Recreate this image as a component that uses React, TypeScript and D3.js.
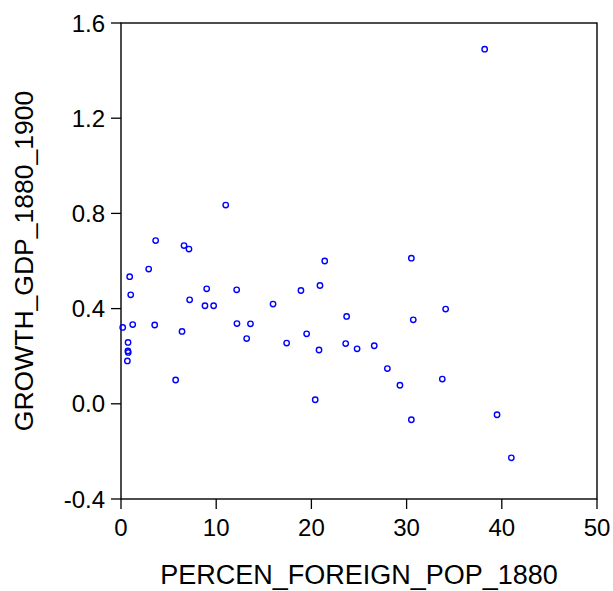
import React from "react";
import * as d3 from "d3";

const percenForeignPop1880: number[] = [
  0.18, 0.74, 0.72, 0.76, 0.67, 0.91, 1.02, 1.23, 2.91, 3.64, 3.54, 5.74, 6.41, 6.62, 7.14,
  7.21, 8.82, 9.0, 9.73, 11.0, 12.15, 12.18, 13.2, 13.6, 15.97, 17.4, 18.9, 19.5, 20.4, 20.9,
  20.8, 21.4, 23.6, 23.7, 24.8, 26.6, 27.98, 29.3, 30.5, 30.5, 30.7, 33.75, 34.1, 38.2, 39.5, 41.0,
];
const growthGdp18801900: number[] = [
  0.321, 0.258, 0.222, 0.216, 0.18, 0.534, 0.458, 0.333, 0.566, 0.686, 0.331, 0.10, 0.304, 0.665, 0.65,
  0.437, 0.412, 0.483, 0.412, 0.835, 0.479, 0.337, 0.274, 0.336, 0.419, 0.255, 0.476, 0.294, 0.017, 0.497,
  0.226, 0.60, 0.253, 0.367, 0.231, 0.244, 0.148, 0.078, 0.612, -0.067, 0.353, 0.104, 0.398, 1.49, -0.046, -0.227,
];
const xTicks: number[] = [0, 10, 20, 30, 40, 50];
const yTicks: number[] = [-0.4, 0.0, 0.4, 0.8, 1.2, 1.6];
const xTitle = "PERCEN_FOREIGN_POP_1880";
const yTitle = "GROWTH_GDP_1880_1900";

export default function App() {
  const W = 613, H = 591;
  const left = 121, right = 597, top = 23, bottom = 499;
  const x = d3.scaleLinear().domain([0, 50]).range([left, right]);
  const y = d3.scaleLinear().domain([-0.4, 1.6]).range([bottom, top]);
  const font = "Liberation Sans, Arial, sans-serif";
  const tickFs = 24;
  return (
    <svg width={W} height={H} style={{ position: "absolute", left: 0, top: 0, background: "#fff" }}>
      <rect x={0} y={0} width={W} height={H} fill="#fff" />
      <rect x={left} y={top} width={right - left} height={bottom - top} fill="none" stroke="#000" strokeWidth={1.4} />
      {xTicks.map((t) => (
        <g key={"x" + t}>
          <line x1={x(t)} x2={x(t)} y1={bottom} y2={bottom + 10} stroke="#000" strokeWidth={1.3} />
          <text x={x(t)} y={bottom + 37} textAnchor="middle" fontFamily={font} fontSize={tickFs} fill="#000">
            {String(t)}
          </text>
        </g>
      ))}
      {yTicks.map((t) => (
        <g key={"y" + t}>
          <line x1={left - 10} x2={left} y1={y(t)} y2={y(t)} stroke="#000" strokeWidth={1.3} />
          <text x={left - 16} y={y(t) + 8.5} textAnchor="end" fontFamily={font} fontSize={tickFs} fill="#000">
            {t.toFixed(1)}
          </text>
        </g>
      ))}
      {percenForeignPop1880.map((v, i) => (
        <circle key={i} cx={x(v)} cy={y(growthGdp18801900[i])} r={2.7} fill="none" stroke="#0000ff" strokeWidth={1.4} />
      ))}
      <text x={(left + right) / 2} y={584} textAnchor="middle" fontFamily={font} fontSize={27} fill="#000">
        {xTitle}
      </text>
      <text
        transform={`translate(33, ${(top + bottom) / 2}) rotate(-90)`}
        textAnchor="middle"
        fontFamily={font}
        fontSize={26.5}
        fill="#000"
      >
        {yTitle}
      </text>
    </svg>
  );
}
